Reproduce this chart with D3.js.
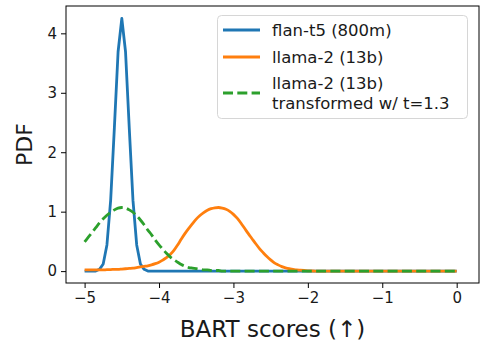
<!DOCTYPE html>
<html>
<head>
<meta charset="utf-8">
<script src="https://cdn.jsdelivr.net/npm/d3@7"></script>
<style>
  body { margin: 0; background: #fff; }
  svg { display: block; font-family: "DejaVu Sans", sans-serif; }
</style>
</head>
<body>
<svg id="chart" width="482" height="343"></svg>
<script>
// BART score grid (shared by all three curves)
const xGrid = [
  -5.00, -4.95, -4.90, -4.85, -4.80, -4.75, -4.70, -4.65, -4.60, -4.55,
  -4.50, -4.45, -4.40, -4.35, -4.30, -4.25, -4.20, -4.15, -4.10, -4.05,
  -4.00, -3.95, -3.90, -3.85, -3.80, -3.75, -3.70, -3.65, -3.60, -3.55,
  -3.50, -3.45, -3.40, -3.35, -3.30, -3.25, -3.20, -3.15, -3.10, -3.05,
  -3.00, -2.95, -2.90, -2.85, -2.80, -2.75, -2.70, -2.65, -2.60, -2.55,
  -2.50, -2.45, -2.40, -2.35, -2.30, -2.25, -2.20, -2.15, -2.10, -2.05,
  -2.00, -1.95, -1.90, -1.85, -1.80, -1.75, -1.70, -1.65, -1.60, -1.55,
  -1.50, -1.45, -1.40, -1.35, -1.30, -1.25, -1.20, -1.15, -1.10, -1.05,
  -1.00, -0.95, -0.90, -0.85, -0.80, -0.75, -0.70, -0.65, -0.60, -0.55,
  -0.50, -0.45, -0.40, -0.35, -0.30, -0.25, -0.20, -0.15, -0.10, -0.05,
  0.00
];

// flan-t5 (800m)
const flanPdf = [
  0, 0, 0, 0, 0.03, 0.12, 0.44, 1.19, 2.41, 3.69,
  4.25, 3.69, 2.41, 1.19, 0.44, 0.12, 0.03, 0, 0, 0,
  0, 0, 0, 0, 0, 0, 0, 0, 0, 0,
  0, 0, 0, 0, 0, 0, 0, 0, 0, 0,
  0, 0, 0, 0, 0, 0, 0, 0, 0, 0,
  0, 0, 0, 0, 0, 0, 0, 0, 0, 0,
  0, 0, 0, 0, 0, 0, 0, 0, 0, 0,
  0, 0, 0, 0, 0, 0, 0, 0, 0, 0,
  0, 0, 0, 0, 0, 0, 0, 0, 0, 0,
  0, 0, 0, 0, 0, 0, 0, 0, 0, 0,
  0
];

// llama-2 (13b)
const llamaPdf = [
  0.02, 0.02, 0.02, 0.02, 0.02, 0.02, 0.025, 0.025, 0.03, 0.03,
  0.035, 0.04, 0.045, 0.05, 0.06, 0.07, 0.08, 0.09, 0.105, 0.125,
  0.15, 0.185, 0.225, 0.28, 0.35, 0.44, 0.54, 0.635, 0.72, 0.80,
  0.875, 0.935, 0.985, 1.025, 1.05, 1.065, 1.07, 1.06, 1.04, 1.005,
  0.955, 0.89, 0.81, 0.72, 0.63, 0.545, 0.46, 0.38, 0.31, 0.245,
  0.19, 0.14, 0.105, 0.075, 0.055, 0.04, 0.03, 0.02, 0.015, 0.01,
  0.005, 0.003, 0, 0, 0, 0, 0, 0, 0, 0,
  0, 0, 0, 0, 0, 0, 0, 0, 0, 0,
  0, 0, 0, 0, 0, 0, 0, 0, 0, 0,
  0, 0, 0, 0, 0, 0, 0, 0, 0, 0,
  0
];

// llama-2 (13b) transformed w/ t=1.3
const transformedPdf = [
  0.49, 0.57, 0.65, 0.73, 0.81, 0.88, 0.94, 0.99, 1.03, 1.06,
  1.07, 1.06, 1.03, 0.99, 0.93, 0.86, 0.78, 0.69, 0.61, 0.52,
  0.44, 0.37, 0.30, 0.24, 0.19, 0.15, 0.11, 0.08, 0.06, 0.05,
  0.04, 0.03, 0.02, 0.02, 0.01, 0.01, 0.01, 0, 0, 0,
  0, 0, 0, 0, 0, 0, 0, 0, 0, 0,
  0, 0, 0, 0, 0, 0, 0, 0, 0, 0,
  0, 0, 0, 0, 0, 0, 0, 0, 0, 0,
  0, 0, 0, 0, 0, 0, 0, 0, 0, 0,
  0, 0, 0, 0, 0, 0, 0, 0, 0, 0,
  0, 0, 0, 0, 0, 0, 0, 0, 0, 0,
  0
];

const xTicks = [-5, -4, -3, -2, -1, 0];
const yTicks = [0, 1, 2, 3, 4];

const series = [
  { label: ["flan-t5 (800m)"], values: flanPdf, color: "#1f77b4", dash: null, curve: d3.curveLinear },
  { label: ["llama-2 (13b)"], values: llamaPdf, color: "#ff7f0e", dash: null, curve: d3.curveMonotoneX },
  { label: ["llama-2 (13b)", "transformed w/ t=1.3"], values: transformedPdf, color: "#2ca02c", dash: "10,4.3", curve: d3.curveMonotoneX }
];

const svg = d3.select("#chart");
const margin = { left: 66, right: 3, top: 6, bottom: 60 };
const width = 482 - margin.left - margin.right;
const height = 343 - margin.top - margin.bottom;

const x = d3.scaleLinear().domain([-5.25, 0.3]).range([0, width]);
const y = d3.scaleLinear().domain([-0.2, 4.46]).range([height, 0]);

const g = svg.append("g").attr("transform", `translate(${margin.left},${margin.top})`);

// Axes
const fmt = d3.format("d");
const xAxis = g.append("g")
  .attr("transform", `translate(0,${height})`)
  .call(d3.axisBottom(x).tickValues(xTicks).tickFormat(fmt).tickSize(5).tickPadding(4));
const yAxis = g.append("g")
  .call(d3.axisLeft(y).tickValues(yTicks).tickFormat(fmt).tickSize(5).tickPadding(4));

[xAxis, yAxis].forEach(ax => {
  ax.select(".domain").remove();
  ax.selectAll(".tick line").attr("stroke", "#000").attr("stroke-width", 1);
  ax.selectAll(".tick text")
    .attr("fill", "#1a1a1a")
    .style("font-size", "15px")
    .style("font-family", "DejaVu Sans");
});

// Clip lines to the plot area
g.append("clipPath").attr("id", "clip")
  .append("rect").attr("width", width).attr("height", height);

series.forEach(s => {
  const line = d3.line()
    .curve(s.curve)
    .x((d, i) => x(xGrid[i]))
    .y(d => y(d));
  g.append("path")
    .datum(s.values)
    .attr("clip-path", "url(#clip)")
    .attr("fill", "none")
    .attr("stroke", s.color)
    .attr("stroke-width", 2.8)
    .attr("stroke-linejoin", "round")
    .attr("stroke-dasharray", s.dash)
    .attr("d", line);
});

// Frame
g.append("rect")
  .attr("width", width)
  .attr("height", height)
  .attr("fill", "none")
  .attr("stroke", "#000")
  .attr("stroke-width", 1);

// Axis labels
svg.append("text")
  .attr("x", margin.left + width / 2)
  .attr("y", 337)
  .attr("text-anchor", "middle")
  .style("font-size", "23px")
  .attr("fill", "#1a1a1a")
  .text("BART scores (\u2191)");

svg.append("text")
  .attr("transform", `translate(32,${margin.top + height / 2}) rotate(-90)`)
  .attr("text-anchor", "middle")
  .style("font-size", "22px")
  .attr("fill", "#1a1a1a")
  .text("PDF");

// Legend
const legend = svg.append("g");
legend.append("rect")
  .attr("x", 217.5).attr("y", 15.5)
  .attr("width", 250).attr("height", 103)
  .attr("rx", 4)
  .attr("fill", "rgba(255,255,255,0.8)")
  .attr("stroke", "#d6d6d6");

const rowY = [30, 57, 93];
series.forEach((s, i) => {
  legend.append("line")
    .attr("x1", 223).attr("x2", 260)
    .attr("y1", rowY[i]).attr("y2", rowY[i])
    .attr("stroke", s.color)
    .attr("stroke-width", 2.8)
    .attr("stroke-dasharray", s.dash);
  const t = legend.append("text")
    .attr("x", 272)
    .style("font-size", "16.5px")
    .attr("fill", "#1a1a1a");
  const n = s.label.length;
  s.label.forEach((l, j) => {
    t.append("tspan")
      .attr("x", 272)
      .attr("y", rowY[i] + 6 + (j - (n - 1) / 2) * 20)
      .text(l);
  });
});
</script>
</body>
</html>
